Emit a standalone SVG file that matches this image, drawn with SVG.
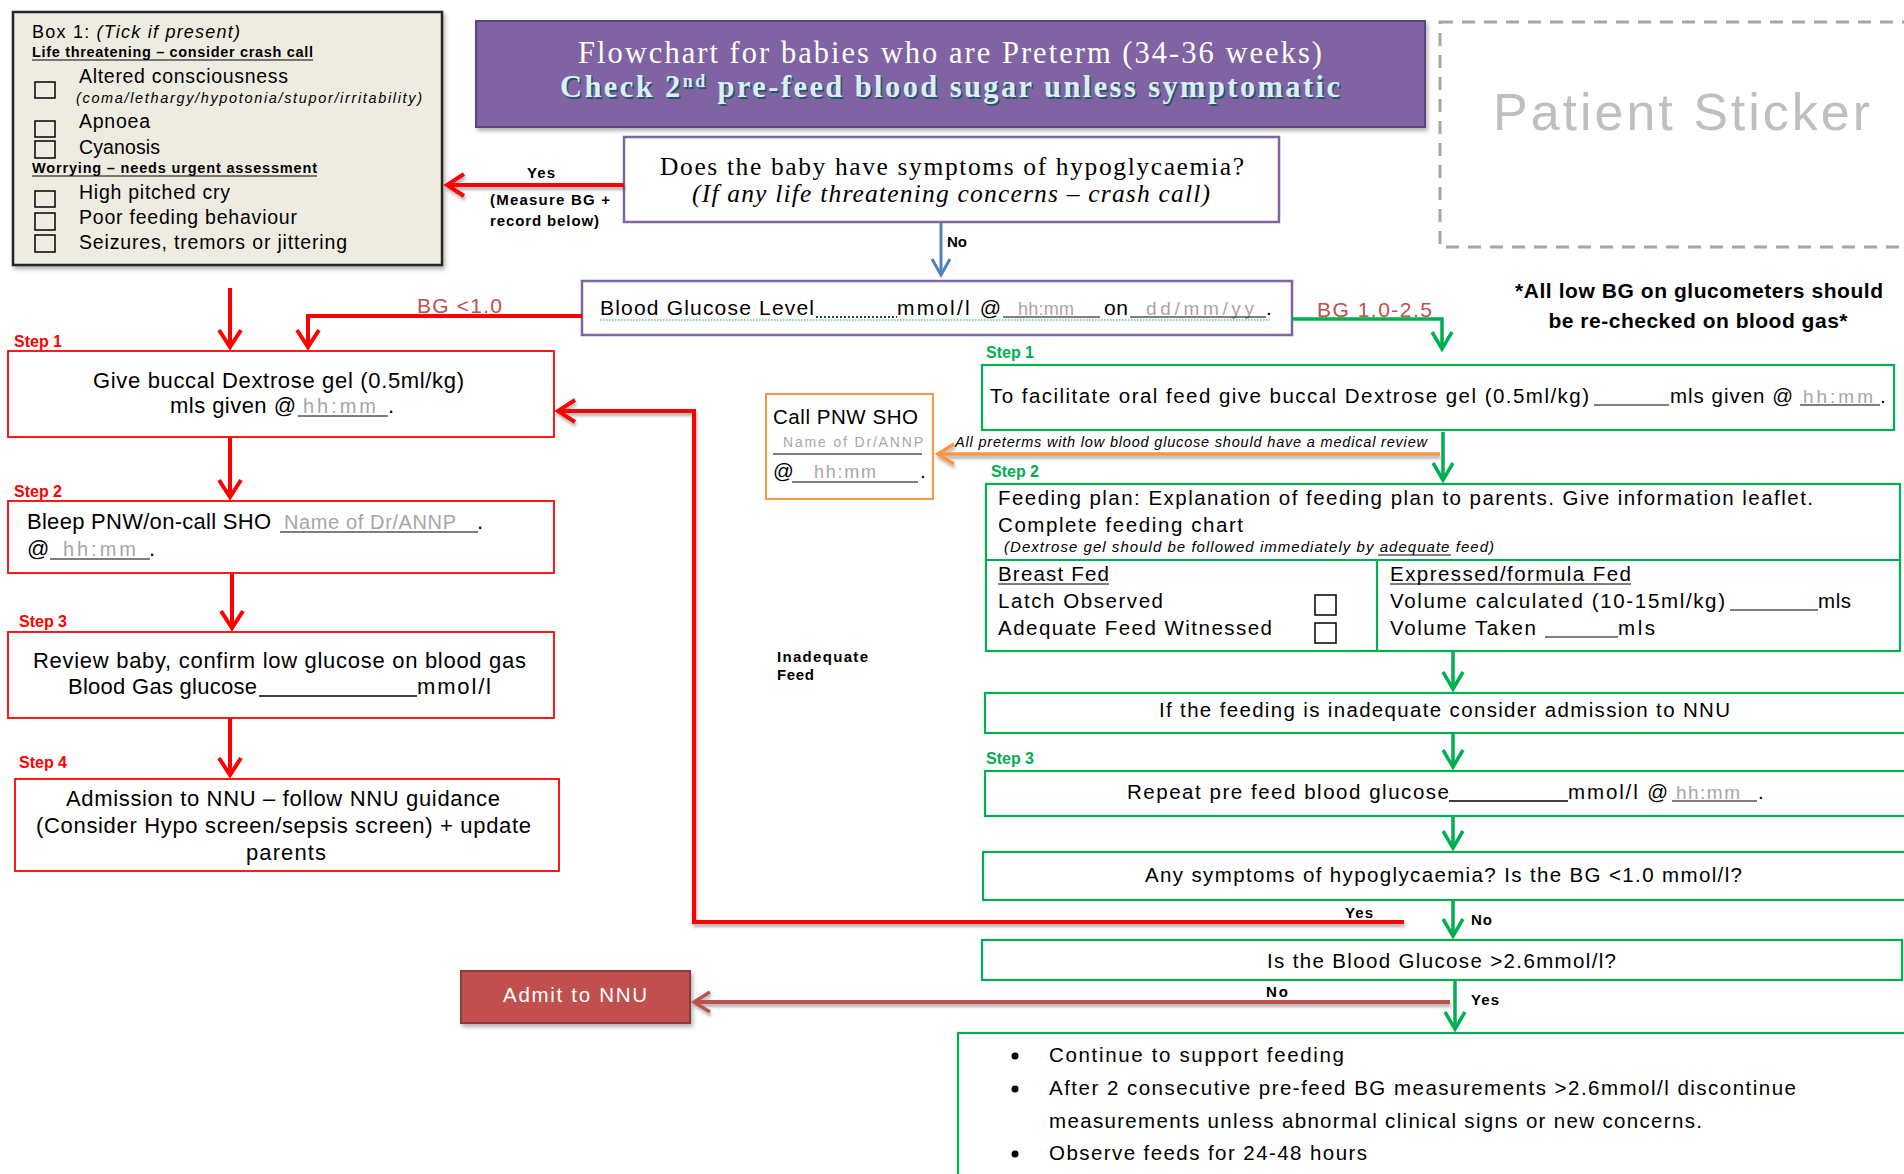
<svg xmlns="http://www.w3.org/2000/svg" width="1904" height="1174" viewBox="0 0 1904 1174">
<defs>
<style>
text{font-family:"Liberation Sans",Arial,sans-serif;fill:#000}
.sf{font-family:"Liberation Serif","Times New Roman",serif}
.b13{font-size:14.5px;font-weight:bold}
.s18{font-size:19.5px}
.s19{font-size:20.5px}
.s20{font-size:22px}
.it{font-style:italic}
.gray{fill:#A6A6A6}
.stepR{fill:#FF0000;font-size:16px;font-weight:bold}
.stepG{fill:#00B050;font-size:16px;font-weight:bold}
.lbl{font-size:15px;font-weight:bold}
.bgl{fill:#C0504D;font-size:21px}
.rbox{fill:#fff;stroke:#FF0000;stroke-width:1.8}
.gbox{fill:#fff;stroke:#00B050;stroke-width:2.2}
.pbox{fill:#fff;stroke:#8064A2;stroke-width:2.5}
.cb{fill:none;stroke:#000;stroke-width:1.5}
.ul{stroke:#000;stroke-width:1.2}
.red{fill:none;stroke:#FF0000;stroke-width:4}
.grn{fill:none;stroke:#00B050;stroke-width:3.5}
</style>
<filter id="sh" x="-10%" y="-10%" width="130%" height="140%"><feDropShadow dx="2" dy="3" stdDeviation="2" flood-color="#000" flood-opacity="0.3"/></filter>
<filter id="shL" filterUnits="userSpaceOnUse" x="0" y="0" width="1904" height="1174"><feDropShadow dx="1" dy="3" stdDeviation="1.5" flood-color="#000" flood-opacity="0.3"/></filter>
<marker id="mR" markerUnits="userSpaceOnUse" markerWidth="40" markerHeight="40" viewBox="-30 -20 40 40" refX="0" refY="0" orient="auto"><path d="M-17,-11 L0,0 L-17,11" fill="none" stroke="#FF0000" stroke-width="4"/></marker>
<marker id="mG" markerUnits="userSpaceOnUse" markerWidth="40" markerHeight="40" viewBox="-30 -20 40 40" refX="0" refY="0" orient="auto"><path d="M-17,-10 L0,0 L-17,10" fill="none" stroke="#00B050" stroke-width="3.5"/></marker>
<marker id="mB" markerUnits="userSpaceOnUse" markerWidth="40" markerHeight="40" viewBox="-30 -20 40 40" refX="0" refY="0" orient="auto"><path d="M-16,-9 L0,0 L-16,9" fill="none" stroke="#4F81BD" stroke-width="3"/></marker>
<marker id="mO" markerUnits="userSpaceOnUse" markerWidth="40" markerHeight="40" viewBox="-30 -20 40 40" refX="0" refY="0" orient="auto"><path d="M-16,-10 L0,0 L-16,10" fill="none" stroke="#F79646" stroke-width="3.5"/></marker>
<marker id="mD" markerUnits="userSpaceOnUse" markerWidth="40" markerHeight="40" viewBox="-30 -20 40 40" refX="0" refY="0" orient="auto"><path d="M-16,-10 L0,0 L-16,10" fill="none" stroke="#C0504D" stroke-width="3.5"/></marker>
</defs>
<rect width="1904" height="1174" fill="#fff"/>

<g id="box1">
<rect x="13" y="12" width="429" height="253" fill="#EEECE1" stroke="#262626" stroke-width="2.5" filter="url(#sh)"/>
<text x="32" y="38" font-size="18" textLength="208">Box 1: <tspan font-style="italic">(Tick if present)</tspan></text>
<text x="32" y="57" class="b13" textLength="281">Life threatening – consider crash call</text>
<line x1="32" y1="60" x2="313" y2="60" class="ul"/>
<rect x="35" y="82" width="20" height="16" class="cb"/>
<text x="79" y="83" class="s18" textLength="209">Altered consciousness</text>
<text x="76" y="103" font-size="14.5" class="it" textLength="346">(coma/lethargy/hypotonia/stupor/irritability)</text>
<rect x="35" y="121" width="20" height="16" class="cb"/>
<text x="79" y="128" class="s18" textLength="71">Apnoea</text>
<rect x="35" y="141" width="20" height="17" class="cb"/>
<text x="79" y="154" class="s18" textLength="81">Cyanosis</text>
<text x="32" y="173" class="b13" textLength="285">Worrying – needs urgent assessment</text>
<line x1="32" y1="176" x2="317" y2="176" class="ul"/>
<rect x="35" y="191" width="20" height="16" class="cb"/>
<text x="79" y="199" class="s18" textLength="151">High pitched cry</text>
<rect x="35" y="213" width="20" height="17" class="cb"/>
<text x="79" y="224" class="s18" textLength="218">Poor feeding behaviour</text>
<rect x="35" y="235" width="20" height="17" class="cb"/>
<text x="79" y="249" class="s18" textLength="268">Seizures, tremors or jittering</text>
</g>

<g id="title">
<rect x="476" y="21" width="949" height="106" fill="#8064A2" stroke="#5C4776" stroke-width="2" filter="url(#sh)"/>
<text x="950" y="63" class="sf" font-size="30.5" style="fill:#fff" text-anchor="middle" textLength="744">Flowchart for babies who are Preterm (34-36 weeks)</text>
<text x="951.5" y="98.5" class="sf" font-size="30.5" font-weight="bold" style="fill:#205867" text-anchor="middle" textLength="780">Check 2<tspan font-size="18" dy="-10">nd</tspan><tspan dy="10"> pre-feed blood sugar unless symptomatic</tspan></text>
<text x="950" y="97" class="sf" font-size="30.5" font-weight="bold" style="fill:#DAEEF3" text-anchor="middle" textLength="780">Check 2<tspan font-size="18" dy="-10">nd</tspan><tspan dy="10"> pre-feed blood sugar unless symptomatic</tspan></text>
</g>

<g id="sticker">
<rect x="1440" y="22" width="480" height="225" fill="none" stroke="#A6A6A6" stroke-width="3" stroke-dasharray="13 9"/>
<text x="1493" y="130" font-size="52" style="fill:#BFBFBF" textLength="377">Patient Sticker</text>
</g>

<g id="note">
<text x="1699" y="298" font-size="21" font-weight="bold" text-anchor="middle" textLength="368">*All low BG on glucometers should</text>
<text x="1698" y="328" font-size="21" font-weight="bold" text-anchor="middle" textLength="299">be re-checked on blood gas*</text>
</g>

<g id="question">
<rect x="624" y="137" width="655" height="85" class="pbox"/>
<text x="952" y="175" class="sf" font-size="25.5" text-anchor="middle" textLength="584">Does the baby have symptoms of hypoglycaemia?</text>
<text x="951" y="202" class="sf it" font-size="25.5" text-anchor="middle" textLength="518">(If any life threatening concerns – crash call)</text>
</g>

<g id="bglevel">
<rect x="582" y="281" width="710" height="54" class="pbox"/>
<text x="600" y="315" font-size="21" textLength="214">Blood Glucose Level</text>
<line x1="816" y1="317" x2="897" y2="317" stroke="#000" stroke-width="1.5" stroke-dasharray="2 2"/>
<text x="897" y="315" font-size="21" textLength="104">mmol/l @</text>
<text x="1018" y="315" font-size="18" class="gray" textLength="56">hh:mm</text>
<line x1="1003" y1="317" x2="1100" y2="317" class="ul"/>
<text x="1104" y="315" font-size="21" textLength="24">on</text>
<text x="1146" y="315" font-size="19" class="gray" textLength="108">dd/mm/yy</text>
<line x1="1130" y1="317" x2="1266" y2="317" class="ul"/>
<text x="1266" y="315" font-size="21">.</text>
<line x1="600" y1="320" x2="1270" y2="320" stroke="#00B050" stroke-width="1" stroke-dasharray="1.5 1.5"/>
</g>

<g id="step1-left">
<text x="14" y="347" class="stepR">Step 1</text>
<rect x="8" y="351" width="546" height="86" class="rbox"/>
<text x="93" y="388" class="s20" textLength="371">Give buccal Dextrose gel (0.5ml/kg)</text>
<text x="170" y="413" class="s20" textLength="126">mls given @</text>
<text x="303" y="413" font-size="20" class="gray" textLength="73">hh:mm</text>
<line x1="298" y1="416" x2="388" y2="416" class="ul"/>
<text x="388" y="413" class="s20">.</text>
</g>

<g id="step2-left">
<text x="14" y="497" class="stepR">Step 2</text>
<rect x="8" y="501" width="546" height="72" class="rbox"/>
<text x="27" y="529" class="s20" textLength="244">Bleep PNW/on-call SHO</text>
<text x="284" y="529" font-size="20" class="gray" textLength="172">Name of Dr/ANNP</text>
<line x1="280" y1="532" x2="478" y2="532" class="ul"/>
<text x="477" y="529" class="s20">.</text>
<text x="27" y="556" class="s20">@</text>
<line x1="50" y1="559" x2="150" y2="559" class="ul"/>
<text x="63" y="556" font-size="20" class="gray" textLength="73">hh:mm</text>
<text x="149" y="556" class="s20">.</text>
</g>

<g id="step3-left">
<text x="19" y="627" class="stepR">Step 3</text>
<rect x="8" y="632" width="546" height="86" class="rbox"/>
<text x="33" y="668" class="s20" textLength="493">Review baby, confirm low glucose on blood gas</text>
<text x="68" y="694" class="s20" textLength="189">Blood Gas glucose</text>
<line x1="259" y1="696" x2="417" y2="696" stroke="#000" stroke-width="1.5"/>
<text x="417" y="694" class="s20" textLength="74">mmol/l</text>
</g>

<g id="step4-left">
<text x="19" y="768" class="stepR">Step 4</text>
<rect x="15" y="779" width="544" height="92" class="rbox"/>
<text x="66" y="806" class="s20" textLength="434">Admission to NNU – follow NNU guidance</text>
<text x="36" y="833" class="s20" textLength="495">(Consider Hypo screen/sepsis screen) + update</text>
<text x="246" y="860" class="s20" textLength="80">parents</text>
</g>

<g id="callsho">
<rect x="766" y="394" width="167" height="105" fill="#fff" stroke="#F79646" stroke-width="2"/>
<text x="773" y="424" class="s19" textLength="145">Call PNW SHO</text>
<text x="783" y="447" font-size="14" class="gray" textLength="140">Name of Dr/ANNP</text>
<line x1="773" y1="454" x2="922" y2="454" class="ul"/>
<text x="773" y="478" class="s19">@</text>
<text x="814" y="478" font-size="18" class="gray" textLength="62">hh:mm</text>
<line x1="792" y1="482" x2="918" y2="482" class="ul"/>
<text x="920" y="478" class="s19">.</text>
</g>

<g id="inadequate">
<text x="777" y="662" class="lbl" textLength="91">Inadequate</text>
<text x="777" y="680" class="lbl" textLength="37">Feed</text>
</g>

<g id="green-step1">
<text x="986" y="358" class="stepG">Step 1</text>
<rect x="982" y="365" width="912" height="65" class="gbox"/>
<text x="990" y="403" class="s19" textLength="599">To facilitate  oral feed give buccal Dextrose gel (0.5ml/kg)</text>
<line x1="1594" y1="405" x2="1669" y2="405" class="ul"/>
<text x="1670" y="403" class="s19" textLength="123">mls given @</text>
<text x="1803" y="403" font-size="19" class="gray" textLength="70">hh:mm</text>
<line x1="1800" y1="405" x2="1880" y2="405" class="ul"/>
<text x="1880" y="403" class="s19">.</text>
</g>

<g id="green-step2">
<text x="991" y="477" class="stepG">Step 2</text>
<rect x="986" y="484" width="914" height="167" class="gbox"/>
<line x1="986" y1="560" x2="1900" y2="560" stroke="#00B050" stroke-width="2.2"/>
<line x1="1377" y1="560" x2="1377" y2="651" stroke="#00B050" stroke-width="2.2"/>
<text x="998" y="505" class="s19" textLength="815">Feeding plan:  Explanation of feeding plan to parents. Give information leaflet.</text>
<text x="998" y="532" class="s19" textLength="245">Complete feeding chart</text>
<text x="1004" y="552" font-size="15" class="it" textLength="490">(Dextrose gel should be followed immediately by adequate feed)</text>
<line x1="1378" y1="555" x2="1451" y2="555" stroke="#000" stroke-width="1"/>
<text x="998" y="581" class="s19" textLength="111">Breast Fed</text>
<line x1="998" y1="584" x2="1109" y2="584" class="ul"/>
<text x="998" y="608" class="s19" textLength="165">Latch Observed</text>
<text x="998" y="635" class="s19" textLength="274">Adequate Feed Witnessed</text>
<rect x="1315" y="595" width="21" height="20" class="cb"/>
<rect x="1315" y="623" width="21" height="20" class="cb"/>
<text x="1390" y="581" class="s19" textLength="241">Expressed/formula Fed</text>
<line x1="1390" y1="584" x2="1631" y2="584" class="ul"/>
<text x="1390" y="608" class="s19" textLength="335">Volume calculated (10-15ml/kg)</text>
<line x1="1730" y1="610" x2="1818" y2="610" class="ul"/>
<text x="1818" y="608" class="s19" textLength="33">mls</text>
<text x="1390" y="635" class="s19" textLength="146">Volume Taken</text>
<line x1="1545" y1="637" x2="1618" y2="637" class="ul"/>
<text x="1618" y="635" class="s19" textLength="37">mls</text>
</g>

<g id="inadequate-box">
<rect x="985" y="693" width="925" height="40" class="gbox"/>
<text x="1159" y="717" class="s19" textLength="571">If the feeding is inadequate consider admission to NNU</text>
</g>

<g id="green-step3">
<text x="986" y="764" class="stepG">Step 3</text>
<rect x="985" y="771" width="925" height="45" class="gbox"/>
<text x="1127" y="799" class="s19" textLength="322">Repeat pre feed blood glucose</text>
<line x1="1449" y1="801" x2="1568" y2="801" stroke="#000" stroke-width="1.5"/>
<text x="1568" y="799" class="s19" textLength="100">mmol/l @</text>
<text x="1676" y="799" font-size="19" class="gray" textLength="64">hh:mm</text>
<line x1="1672" y1="801" x2="1757" y2="801" class="ul"/>
<text x="1758" y="799" class="s19">.</text>
</g>

<g id="symptoms-box">
<rect x="983" y="852" width="927" height="48" class="gbox"/>
<text x="1145" y="882" class="s19" textLength="597">Any symptoms of hypoglycaemia? Is the BG &lt;1.0 mmol/l?</text>
</g>

<g id="bg26-box">
<rect x="982" y="940" width="920" height="40" class="gbox"/>
<text x="1267" y="968" class="s19" textLength="349">Is the Blood Glucose &gt;2.6mmol/l?</text>
</g>

<g id="admit">
<rect x="461" y="971" width="229" height="52" fill="#C0504D" stroke="#8C3A38" stroke-width="2" filter="url(#sh)"/>
<text x="575" y="1002" class="s19" style="fill:#fff" text-anchor="middle" textLength="144">Admit to NNU</text>
</g>

<g id="final-box">
<rect x="958" y="1033" width="960" height="160" class="gbox"/>
<circle cx="1015" cy="1056" r="3.5"/>
<circle cx="1015" cy="1089" r="3.5"/>
<circle cx="1015" cy="1154" r="3.5"/>
<text x="1049" y="1062" class="s19" textLength="295">Continue to support feeding</text>
<text x="1049" y="1095" class="s19" textLength="747">After 2 consecutive pre-feed BG measurements &gt;2.6mmol/l discontinue</text>
<text x="1049" y="1128" class="s19" textLength="653">measurements unless abnormal clinical signs or new concerns.</text>
<text x="1049" y="1160" class="s19" textLength="318">Observe feeds for 24-48 hours</text>
</g>

<g id="connectors">
<path d="M624,185 H447" class="red" marker-end="url(#mR)" filter="url(#shL)"/>
<text x="527" y="178" class="lbl" textLength="28">Yes</text>
<text x="490" y="205" class="lbl" textLength="120">(Measure BG +</text>
<text x="490" y="226" class="lbl" textLength="109">record below)</text>

<path d="M941,223 V275" fill="none" stroke="#4F81BD" stroke-width="3" marker-end="url(#mB)"/>
<text x="947" y="247" class="lbl" textLength="20">No</text>

<path d="M582,316 H308 V347" class="red" marker-end="url(#mR)"/>
<text x="417" y="313" class="bgl" textLength="85">BG &lt;1.0</text>
<path d="M230,288 V347" class="red" marker-end="url(#mR)"/>
<path d="M230,437 V497" class="red" marker-end="url(#mR)"/>
<path d="M232,573 V628" class="red" marker-end="url(#mR)"/>
<path d="M230,718 V775" class="red" marker-end="url(#mR)"/>

<path d="M1404,922 H694 V411 H558" class="red" marker-end="url(#mR)" filter="url(#shL)"/>
<text x="1345" y="918" class="lbl" textLength="28">Yes</text>

<path d="M1292,319 H1442 V349" class="grn" marker-end="url(#mG)"/>
<text x="1317" y="317" class="bgl" textLength="115">BG 1.0-2.5</text>

<path d="M1440,454 H938" fill="none" stroke="#F79646" stroke-width="3.5" marker-end="url(#mO)" filter="url(#shL)"/>
<text x="955" y="447" font-size="14.5" class="it" textLength="472">All preterms with low blood glucose should have a medical review</text>

<path d="M1443,432 V480" class="grn" marker-end="url(#mG)"/>
<path d="M1453,652 V689" class="grn" marker-end="url(#mG)"/>
<path d="M1453,734 V767" class="grn" marker-end="url(#mG)"/>
<path d="M1453,817 V848" class="grn" marker-end="url(#mG)"/>
<path d="M1453,901 V936" class="grn" marker-end="url(#mG)"/>
<text x="1471" y="925" class="lbl" textLength="21">No</text>
<path d="M1455,981 V1029" class="grn" marker-end="url(#mG)"/>
<text x="1471" y="1005" class="lbl" textLength="28">Yes</text>

<path d="M1450,1002 H694" fill="none" stroke="#C0504D" stroke-width="4" marker-end="url(#mD)" filter="url(#shL)"/>
<text x="1266" y="997" class="lbl" textLength="22">No</text>
</g>
</svg>
